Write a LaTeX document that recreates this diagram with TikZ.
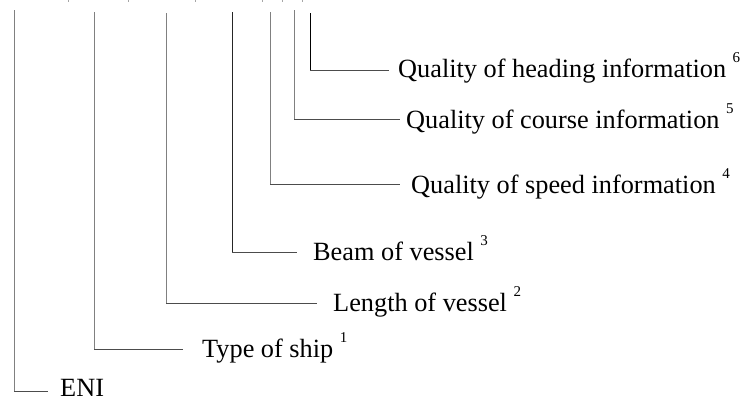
\documentclass[tikz,border=0pt]{standalone}
\usepackage{fontspec}
\setmainfont{Liberation Serif}
\newcommand{\supnum}[1]{\raisebox{0.55em}{\fontsize{15}{15}\selectfont #1}}
\begin{document}
\begin{tikzpicture}[x=1pt,y=-1pt,
  vline/.style={draw=black!50,line width=1pt},
  hline/.style={draw=black!70,line width=1pt},
  lbl/.style={anchor=base west,inner sep=0pt,font=\fontsize{26.3}{30}\selectfont},
  tickmark/.style={draw=black!35,line width=0.8pt}]
\useasboundingbox (0,0) rectangle (752,399);
% tops of the vertical lines
\coordinate (t0) at (14,10);
\coordinate (t1) at (94,12);
\coordinate (t2) at (166,13);
\coordinate (t3) at (232,12);
\coordinate (t4) at (270,12);
\coordinate (t5) at (294,10);
\coordinate (t6) at (310,13);
% ends of the horizontal lines
\coordinate (e0) at (48,391);
\coordinate (e1) at (183,349);
\coordinate (e2) at (317,303);
\coordinate (e3) at (297,252);
\coordinate (e4) at (400,184);
\coordinate (e5) at (400,119);
\coordinate (e6) at (389,70);
% labels
\node[lbl] (l0) at (60,396.5) {ENI};
\node[lbl] (l1) at (202,357) {Type of ship \supnum{1}};
\node[lbl] (l2) at (333,311) {Length of vessel \supnum{2}};
\node[lbl] (l3) at (313,260) {Beam of vessel \supnum{3}};
\node[lbl] (l4) at (411,193) {Quality of speed information \supnum{4}};
\node[lbl] (l5) at (406,128) {Quality of course information \supnum{5}};
\node[lbl] (l6) at (398,77) {Quality of heading information \supnum{6}};
% connectors
\foreach \i in {0,...,6}{
  \draw[vline] (t\i) -- (t\i |- e\i);
  \draw[hline] (t\i |- e\i) -- (e\i);
}
\draw[draw=black,line width=1pt] (t6) -- (t6 |- e6);
\draw[draw=black!85,line width=1pt] (t3) -- (t3 |- e3);
% small marks at the top edge
\foreach \x in {68,128,195,262,282,302}{
  \draw[tickmark] (\x,0) -- (\x,1.5);
}
\end{tikzpicture}
\end{document}
